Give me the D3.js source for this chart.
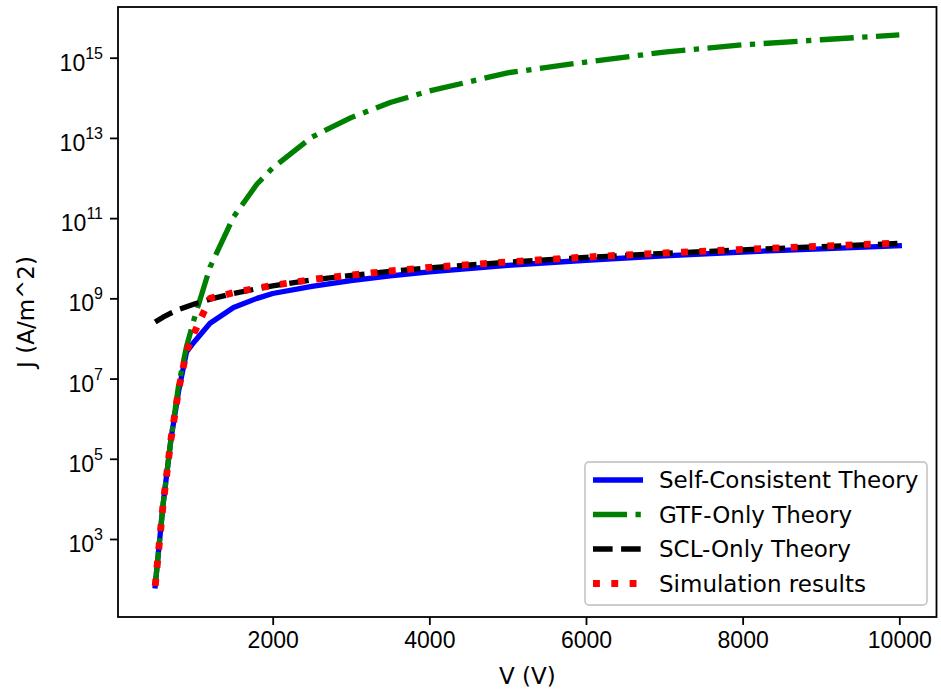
<!DOCTYPE html>
<html>
<head>
<meta charset="utf-8">
<script src="https://cdn.jsdelivr.net/npm/d3@7.9.0/dist/d3.min.js"></script>
<style>
    body { margin: 0; background: #fff; }
    svg { display: block; font-family: "DejaVu Sans", sans-serif; }
</style>
</head>
<body>
<svg id="chart" width="941" height="691"></svg>
<script>
// voltages used for every curve (V)
const voltages = [500, 600, 700, 800, 900, 1000, 1200, 1500, 1800, 2000, 2500, 3000, 3500, 4000, 5000, 6000, 7000, 8000, 9000, 10000];

// current density J (A/m^2)
const selfConsistent = [68, 7.1e3, 2.95e5, 5.0e6, 4.6e7, 8.3e7, 2.4e8, 5.9e8, 1.0e9, 1.32e9, 2.0e9, 2.75e9, 3.63e9, 4.57e9, 6.6e9, 8.9e9, 1.15e10, 1.43e10, 1.72e10, 2.04e10];
const gtfOnly = [68, 7.1e3, 2.95e5, 7.1e6, 6.3e7, 3.2e8, 6.0e9, 1.07e11, 7.1e11, 1.78e12, 1.05e13, 3.2e13, 7.6e13, 1.48e14, 4.2e14, 7.8e14, 1.38e15, 2.09e15, 2.8e15, 3.7e15];
const sclOnly = [2.57e8, 3.39e8, 4.27e8, 5.25e8, 6.17e8, 7.24e8, 9.55e8, 1.32e9, 1.74e9, 2.04e9, 2.88e9, 3.72e9, 4.68e9, 5.75e9, 7.94e9, 1.05e10, 1.32e10, 1.62e10, 1.95e10, 2.34e10];
const simulation = [68, 7.1e3, 2.95e5, 5.4e6, 4.8e7, 1.4e8, 1.0e9, 1.38e9, 1.8e9, 2.1e9, 2.95e9, 3.8e9, 4.8e9, 5.9e9, 8.1e9, 1.07e10, 1.35e10, 1.66e10, 2.0e10, 2.4e10];

const xTicks = [2000, 4000, 6000, 8000, 10000];
const yTickExps = [3, 5, 7, 9, 11, 13, 15];

const seriesNames = ['Self-Consistent Theory', 'GTF-Only Theory', 'SCL-Only Theory', 'Simulation results'];

const svg = d3.select('#chart');
const margin = { left: 118, right: 941 - 936.5, top: 7, bottom: 691 - 617 };
const width = 941 - margin.left - margin.right;
const height = 691 - margin.top - margin.bottom;
const fontSize = 23;

const x = d3.scaleLinear().domain([25, 10475]).range([margin.left, margin.left + width]);
const y = d3.scaleLog().domain([Math.pow(10, 1.055), Math.pow(10, 16.264)]).range([margin.top + height, margin.top]);

const styles = [
    { color: '#0000ff', width: 5.3, dash: null, cap: 'square' },
    { color: '#008000', width: 5.3, dash: '34,8.5,5.3,8.5', cap: 'butt' },
    { color: '#000000', width: 5.3, dash: '19.6,8.5', cap: 'butt' },
    { color: '#ff0000', width: 6.9, dash: '6.9,11.4', cap: 'butt' }
];
const allSeries = [selfConsistent, gtfOnly, sclOnly, simulation];

const plot = svg.append('g');
plot.append('clipPath').attr('id', 'clip')
    .append('rect').attr('x', margin.left).attr('y', margin.top).attr('width', width).attr('height', height);

const line = d3.line()
    .x((d) => x(d[0]))
    .y((d) => y(d[1]));

allSeries.forEach((vals, i) => {
    let pts = voltages.map((v, j) => [v, vals[j]]);
    let s = styles[i];
    plot.append('path')
        .attr('clip-path', 'url(#clip)')
        .attr('d', line(pts))
        .attr('fill', 'none')
        .attr('stroke', s.color)
        .attr('stroke-width', s.width)
        .attr('stroke-dasharray', s.dash)
        .attr('stroke-linecap', s.cap)
        .attr('stroke-linejoin', 'round');
});

// axes
const xAxis = svg.append('g')
    .attr('transform', `translate(0,${margin.top + height})`)
    .call(d3.axisBottom(x).tickValues(xTicks).tickSize(8).tickPadding(7).tickFormat(d3.format('d')));
xAxis.select('.domain').remove();
xAxis.selectAll('line').attr('stroke-width', 1.8);
xAxis.selectAll('text').attr('font-size', fontSize).attr('fill', '#000').attr('dy', '0.71em');

const yAxis = svg.append('g')
    .attr('transform', `translate(${margin.left},0)`)
    .call(d3.axisLeft(y).tickValues(yTickExps.map((e) => Math.pow(10, e))).tickSize(8).tickPadding(7).tickFormat(''));
yAxis.select('.domain').remove();
yAxis.selectAll('line').attr('stroke-width', 1.8);
yAxis.selectAll('.tick').each(function (d) {
    let t = d3.select(this).select('text')
        .attr('font-size', fontSize).attr('fill', '#000').attr('dy', '0.55em');
    t.append('tspan').text('10');
    t.append('tspan').attr('font-size', 16).attr('dy', '-0.75em').text(Math.round(Math.log10(d)));
});

// frame
svg.append('rect')
    .attr('x', margin.left).attr('y', margin.top)
    .attr('width', width).attr('height', height)
    .attr('fill', 'none').attr('stroke', '#000').attr('stroke-width', 1.8);

// axis labels
svg.append('text')
    .attr('x', margin.left + width / 2).attr('y', 684)
    .attr('text-anchor', 'middle').attr('font-size', fontSize)
    .text('V (V)');
svg.append('text')
    .attr('transform', `translate(34,${margin.top + height / 2}) rotate(-90)`)
    .attr('text-anchor', 'middle').attr('font-size', fontSize)
    .text('J (A/m^2)');

// legend
const legend = svg.append('g').attr('transform', 'translate(585,462)');
legend.append('rect')
    .attr('width', 342).attr('height', 143).attr('rx', 4)
    .attr('fill', '#fff').attr('fill-opacity', 0.8)
    .attr('stroke', '#cccccc').attr('stroke-width', 1.8);

seriesNames.forEach((name, i) => {
    let s = styles[i];
    let cy = 18 + i * 34.5;
    legend.append('line')
        .attr('x1', 8).attr('x2', 58).attr('y1', cy).attr('y2', cy)
        .attr('stroke', s.color).attr('stroke-width', s.width)
        .attr('stroke-dasharray', s.dash)
        .attr('stroke-linecap', 'butt');
    legend.append('text')
        .attr('x', 74).attr('y', cy).attr('dy', '0.36em')
        .attr('font-size', fontSize)
        .text(name);
});
</script>
</body>
</html>
